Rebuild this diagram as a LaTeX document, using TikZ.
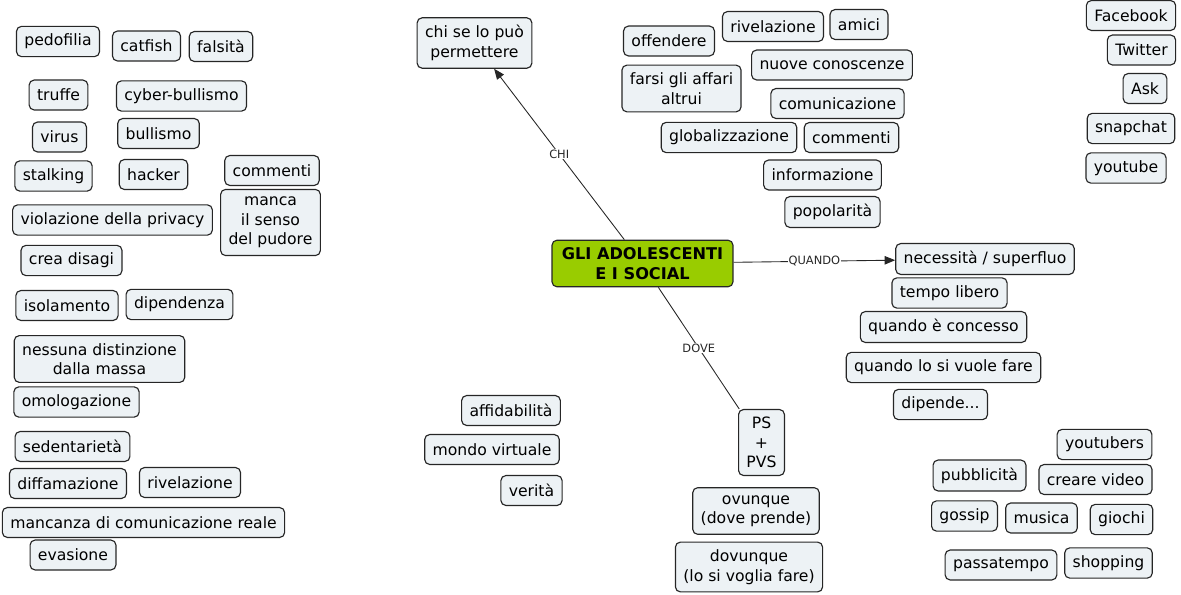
\documentclass[tikz,border=0pt]{standalone}
\usepackage{fontspec}
\setmainfont{DejaVu Sans}
\usetikzlibrary{arrows.meta}
\definecolor{boxfill}{RGB}{237,242,245}
\definecolor{rootfill}{RGB}{153,204,0}
\tikzset{
  box/.style={draw=black!85, fill=boxfill, rounded corners=2.8pt, line width=0.65pt,
    align=center, inner xsep=4.5pt, inner ysep=4.3pt, minimum height=17pt,
    font=\fontsize{8.9}{11.1}\selectfont},
  root/.style={box, fill=rootfill, font=\fontsize{9.2}{11.5}\selectfont\bfseries,
    inner ysep=3pt, minimum width=103pt, minimum height=26.5pt},
  link/.style={line width=0.5pt, black!85},
  linklabel/.style={fill=white, inner sep=0.5pt, font=\fontsize{6.5}{7}\selectfont},
  tip/.style={-{Triangle[length=6pt,width=4.8pt]}}
}
\begin{document}
\begin{tikzpicture}[x=0.02cm, y=-0.02cm]
\useasboundingbox (0,0) rectangle (1181,595);
\node[root] (ado) at (642.5,263.5) {GLI ADOLESCENTI\\E I SOCIAL};
% chi / quando / dove
\node[box] (chi) at (474.5,43) {chi se lo può\\permettere};
\node[box] (necessita) at (985,259) {necessità / superfluo};
\node[box] (ps) at (761.5,442.5) {PS\\+\\PVS};
\draw[link,tip] (ado) -- node[linklabel] {CHI} (chi);
\draw[link,tip] (ado) -- node[linklabel] {QUANDO} (necessita);
\draw[link] (ado) -- node[linklabel] {DOVE} (ps);
% colonna sinistra
\node[box] (pedofilia) at (58,41.5) {pedofilia};
\node[box] (catfish) at (146.5,46) {catfish};
\node[box] (falsita) at (221,46.5) {falsità};
\node[box] (truffe) at (58.5,95) {truffe};
\node[box] (cyber) at (181.5,96) {cyber-bullismo};
\node[box] (virus) at (59.5,137) {virus};
\node[box] (bullismo) at (158.5,133.5) {bullismo};
\node[box] (stalking) at (53.5,176) {stalking};
\node[box] (hacker) at (153.5,174.5) {hacker};
\node[box] (commentiA) at (272,170.5) {commenti};
\node[box] (privacy) at (112.5,220) {violazione della privacy};
\node[box] (pudore) at (270.5,222.5) {manca\\il senso\\del pudore};
\node[box] (disagi) at (71.5,260.5) {crea disagi};
\node[box] (isolamento) at (67,305.5) {isolamento};
\node[box] (dipendenza) at (179.5,304.5) {dipendenza};
\node[box] (massa) at (99.5,359) {nessuna distinzione\\dalla massa};
\node[box] (omologazione) at (76.5,402) {omologazione};
\node[box] (sedentarieta) at (72.5,446.5) {sedentarietà};
\node[box] (diffamazione) at (68,483.5) {diffamazione};
\node[box] (rivelazioneA) at (190,482.5) {rivelazione};
\node[box] (mancanza) at (143.5,522.5) {mancanza di comunicazione reale};
\node[box] (evasione) at (73,555) {evasione};
% in alto
\node[box] (offendere) at (669,41) {offendere};
\node[box] (rivelazioneB) at (773,26.5) {rivelazione};
\node[box] (amici) at (859,24.5) {amici};
\node[box] (conoscenze) at (832,65) {nuove conoscenze};
\node[box] (affari) at (681.5,88.5) {farsi gli affari\\altrui};
\node[box] (comunicazione) at (837.5,103.5) {comunicazione};
\node[box] (globalizzazione) at (729,137.5) {globalizzazione};
\node[box] (commentiB) at (851.5,137.5) {commenti};
\node[box] (informazione) at (822.5,175) {informazione};
\node[box] (popolarita) at (832.5,212) {popolarità};
% social
\node[box] (facebook) at (1131,15.5) {Facebook};
\node[box] (twitter) at (1141.5,50) {Twitter};
\node[box] (ask) at (1145,88.5) {Ask};
\node[box] (snapchat) at (1131,128.5) {snapchat};
\node[box] (youtube) at (1126,168) {youtube};
% quando
\node[box] (tempo) at (949.5,293) {tempo libero};
\node[box] (concesso) at (943.5,327) {quando è concesso};
\node[box] (vuole) at (943.5,367.5) {quando lo si vuole fare};
\node[box] (dipende) at (940.5,404.5) {dipende...};
% in basso a destra
\node[box] (youtubers) at (1104.5,444.5) {youtubers};
\node[box] (pubblicita) at (979.5,475.5) {pubblicità};
\node[box] (video) at (1095.5,479.5) {creare video};
\node[box] (gossip) at (964.5,516) {gossip};
\node[box] (musica) at (1041.5,518) {musica};
\node[box] (giochi) at (1121.5,519.5) {giochi};
\node[box] (passatempo) at (1001,565) {passatempo};
\node[box] (shopping) at (1108.5,563) {shopping};
% dove
\node[box] (affidabilita) at (511,410.5) {affidabilità};
\node[box] (virtuale) at (492,449.5) {mondo virtuale};
\node[box] (verita) at (531.5,490.5) {verità};
\node[box] (ovunque) at (756,511) {ovunque\\(dove prende)};
\node[box] (dovunque) at (749,567) {dovunque\\(lo si voglia fare)};
\end{tikzpicture}
\end{document}
